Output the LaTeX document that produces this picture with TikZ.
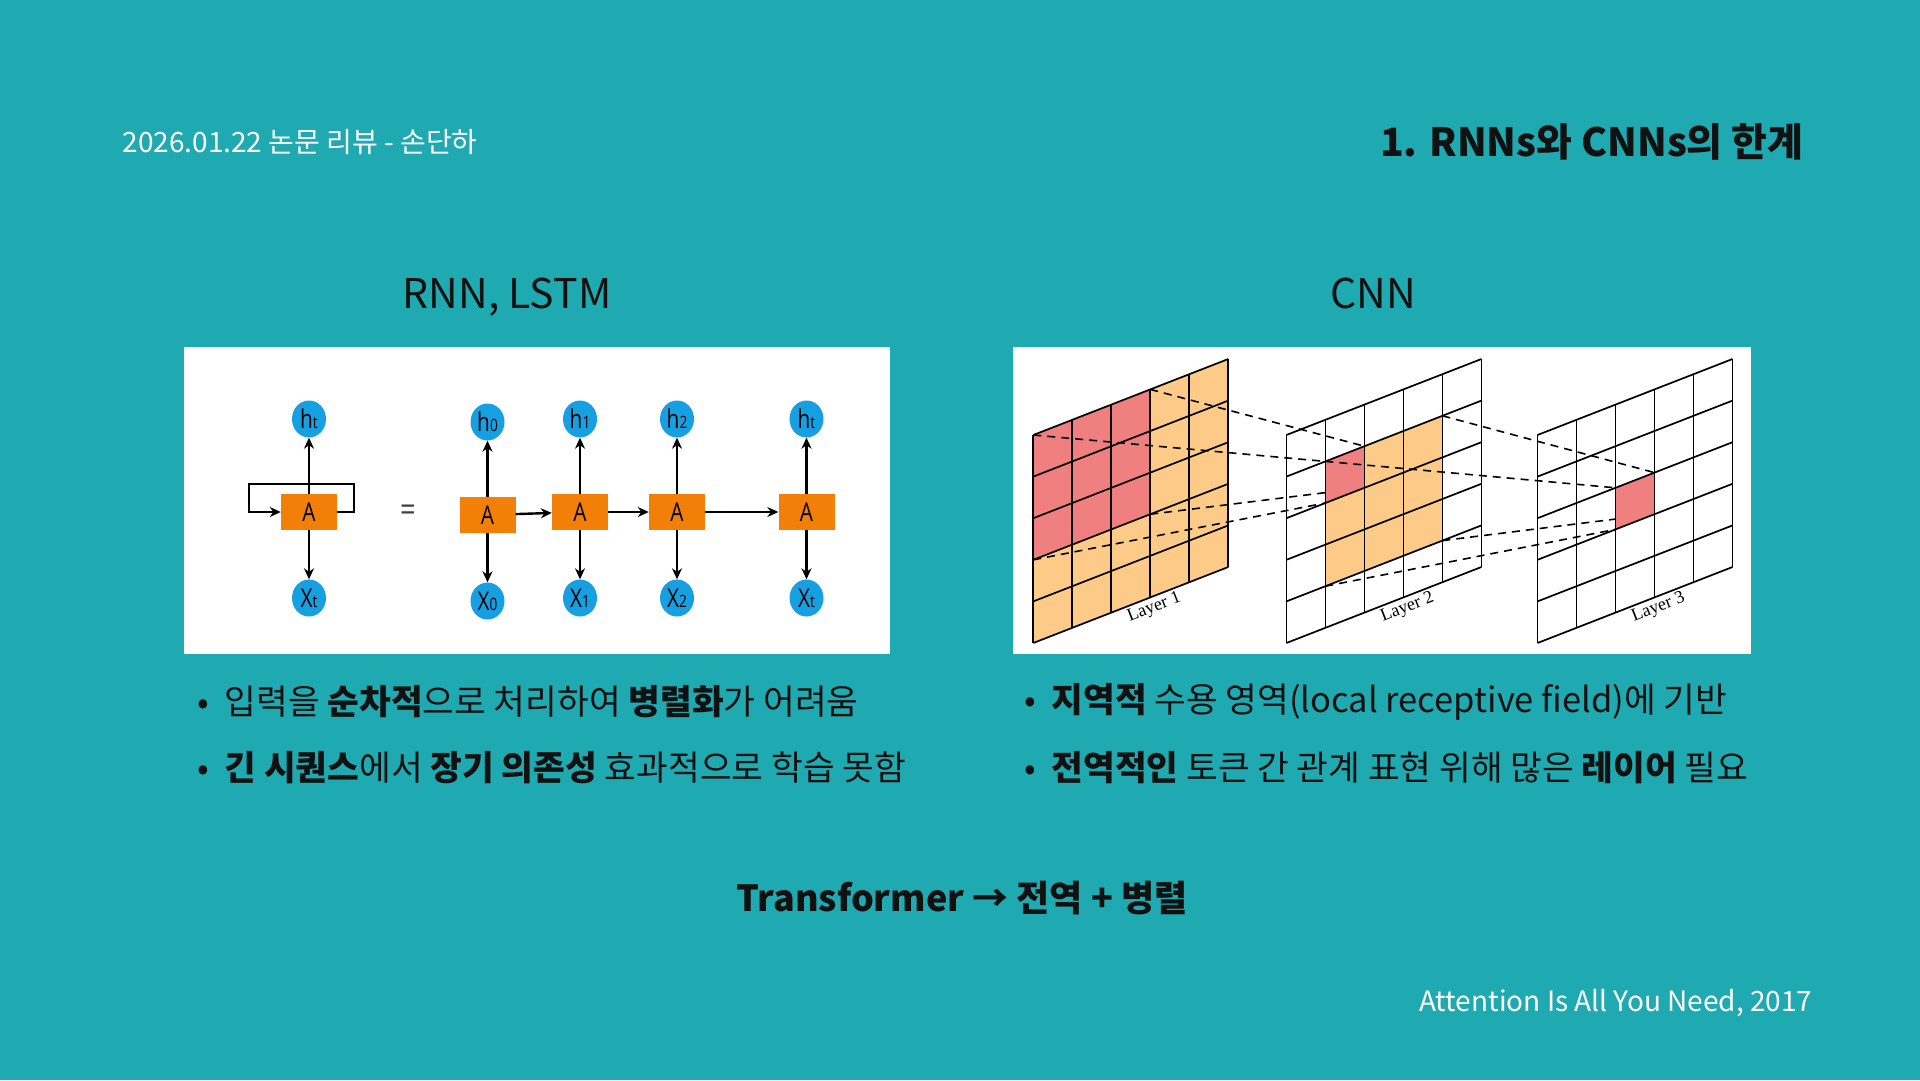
\documentclass[tikz,border=0pt]{standalone}
\usepackage{fontspec}
\setmainfont{Noto Sans CJK KR}
\newfontfamily\rnnfont{Open Sans}[FakeStretch=0.8]
\newfontfamily\layerfont{Liberation Serif}
\usetikzlibrary{shapes.geometric, arrows.meta}
\definecolor{slidebg}{RGB}{31,170,177}
\definecolor{cellred}{RGB}{240,128,128}
\definecolor{cellpeach}{RGB}{253,203,135}
\definecolor{nodeblue}{RGB}{22,160,226}
\definecolor{boxorange}{RGB}{241,127,8}
\definecolor{inkdark}{RGB}{17,17,17}
\newcommand{\lbl}[2]{#1{\fontsize{17}{17}\selectfont #2}}
\tikzset{lay/.style={shift={(#1,435)}, x={(39pt,15.2pt)}, y={(0pt,-41.6pt)}}}

\begin{document}
\begin{tikzpicture}[x=1pt, y=-1pt, >={Stealth[length=11pt, width=10pt]},
  state/.style={ellipse, fill=nodeblue, minimum width=34pt, minimum height=37pt, inner sep=0pt, font=\rnnfont\fontsize{26}{26}\selectfont},
  cell/.style={fill=boxorange, minimum width=56pt, minimum height=36pt, inner sep=0pt, font=\rnnfont\fontsize{26}{26}\selectfont},
  flow/.style={->, line width=2.4pt},
  grid line/.style={line width=1.7pt},
  proj/.style={line width=1.6pt, dash pattern=on 8pt off 6pt},
  layer label/.style={font=\layerfont\fontsize{18}{18}\selectfont, rotate=21.3, anchor=north, inner sep=3pt},
  bullet/.style={anchor=west, font=\fontsize{34.5}{34.5}\selectfont, text=inkdark},
  head/.style={anchor=base, text=inkdark, font=\fontsize{41}{41}\selectfont}]
  \useasboundingbox (0,0) rectangle (1920,1080);
  \fill[slidebg] (0,0) rectangle (1920,1080);

  % header
  \node[anchor=west, text=white, font=\fontsize{28}{28}\selectfont] (date) at (119,142) {2026.01.22 논문 리뷰 - 손단하};
  \node[anchor=east, text=inkdark, font=\bfseries\fontsize{39}{39}\selectfont] (title) at (1807,142) {1. RNNs와 CNNs의 한계};

  % section heads
  \node[head] (rnnhead) at (507,308) {RNN, LSTM};
  \node[head] (cnnhead) at (1373,308) {CNN};

  % white panels
  \fill[white] (184,347) rectangle (890,654);
  \fill[white] (1013,347) rectangle (1751,654);

  % RNN: folded
  \node[state] (hL) at (309,419) {\lbl{h}{t}};
  \node[cell] (aL) at (309,512) {A};
  \node[state] (xL) at (309,598) {\lbl{X}{t}};
  \draw[flow] (aL) -- (hL);
  \draw[flow] (aL) -- (xL);
  \draw[flow] (aL.east) -- ++(17,0) -- ++(0,-28) -- ++(-105,0) -- ++(0,28) -- (aL.west);
  \node[text=black!75, font=\rnnfont\fontsize{34}{34}\selectfont] (eq) at (408,513) {=};

  % RNN: unrolled
  \foreach \n/\x/\dy/\s in {0/487.5/3/0, 1/580/0/1, 2/677/0/2, 3/806.5/0/t} {
    \node[state] (h\n) at (\x,{419+\dy}) {\lbl{h}{\s}};
    \node[cell] (a\n) at (\x,{512+\dy}) {A};
    \node[state] (x\n) at (\x,{598+\dy}) {\lbl{X}{\s}};
    \draw[flow] (a\n) -- (h\n);
    \draw[flow] (a\n) -- (x\n);
  }
  \foreach \a/\b in {0/1, 1/2, 2/3}
    \draw[flow] (a\a) -- (a\b);

  % CNN: layer 1
  \begin{scope}[lay=1033.3]
    \fill[cellpeach] (0,0) -- (5,0) -- (5,5) -- (0,5) -- cycle;
    \fill[cellred] (0,0) -- (3,0) -- (3,3) -- (0,3) -- cycle;
    \foreach \i in {0,...,5} {
      \draw[grid line] (\i,0) -- (\i,5);
      \draw[grid line] (0,\i) -- (5,\i);
    }
    \node[layer label] (lab1) at (3,5) {Layer 1};
    \coordinate (p1a) at (0,0);
    \coordinate (p1b) at (3,0);
    \coordinate (p1c) at (3,3);
    \coordinate (p1d) at (0,3);
  \end{scope}

  % CNN: layer 2
  \begin{scope}[lay=1286.4]
    \coordinate (q1a) at (1,1);
    \coordinate (q1b) at (2,1);
    \coordinate (q1c) at (2,2);
    \coordinate (q1d) at (1,2);
    \foreach \c in {a,b,c,d}
      \draw[proj] (p1\c) -- (q1\c);
    \fill[cellpeach] (1,1) -- (4,1) -- (4,4) -- (1,4) -- cycle;
    \fill[cellred] (1,1) -- (2,1) -- (2,2) -- (1,2) -- cycle;
    \foreach \i in {0,...,5} {
      \draw[grid line] (\i,0) -- (\i,5);
      \draw[grid line] (0,\i) -- (5,\i);
    }
    \node[layer label] (lab2) at (3,5) {Layer 2};
    \coordinate (p2a) at (1,1);
    \coordinate (p2b) at (4,1);
    \coordinate (p2c) at (4,4);
    \coordinate (p2d) at (1,4);
  \end{scope}

  % CNN: layer 3
  \begin{scope}[lay=1537.5]
    \coordinate (q2a) at (2,2);
    \coordinate (q2b) at (3,2);
    \coordinate (q2c) at (3,3);
    \coordinate (q2d) at (2,3);
    \foreach \c in {a,b,c,d}
      \draw[proj] (p2\c) -- (q2\c);
    \fill[cellred] (2,2) -- (3,2) -- (3,3) -- (2,3) -- cycle;
    \foreach \i in {0,...,5} {
      \draw[grid line] (\i,0) -- (\i,5);
      \draw[grid line] (0,\i) -- (5,\i);
    }
    \node[layer label] (lab3) at (3,5) {Layer 3};
  \end{scope}

  % bullets
  \node[bullet] (b1) at (194,702) {•\hspace{0.22em} 입력을 \textbf{순차적}으로 처리하여 \textbf{병렬화}가 어려움};
  \node[bullet] (b2) at (194,768) {•\hspace{0.22em} \textbf{긴 시퀀스}에서 \textbf{장기 의존성} 효과적으로 학습 못함};
  \node[bullet] (b3) at (1021,702) {•\hspace{0.22em} \textbf{지역적} 수용 영역(local receptive field)에 기반};
  \node[bullet] (b4) at (1021,768) {•\hspace{0.22em} \textbf{전역적인} 토큰 간 관계 표현 위해 많은 \textbf{레이어} 필요};

  % conclusion and footer
  \node[text=inkdark, font=\bfseries\fontsize{36}{36}\selectfont] (concl) at (962,898) {Transformer → 전역 + 병렬};
  \node[anchor=east, text=white, font=\fontsize{28}{28}\selectfont] (cite) at (1816,1003) {Attention Is All You Need, 2017};
\end{tikzpicture}
\end{document}
